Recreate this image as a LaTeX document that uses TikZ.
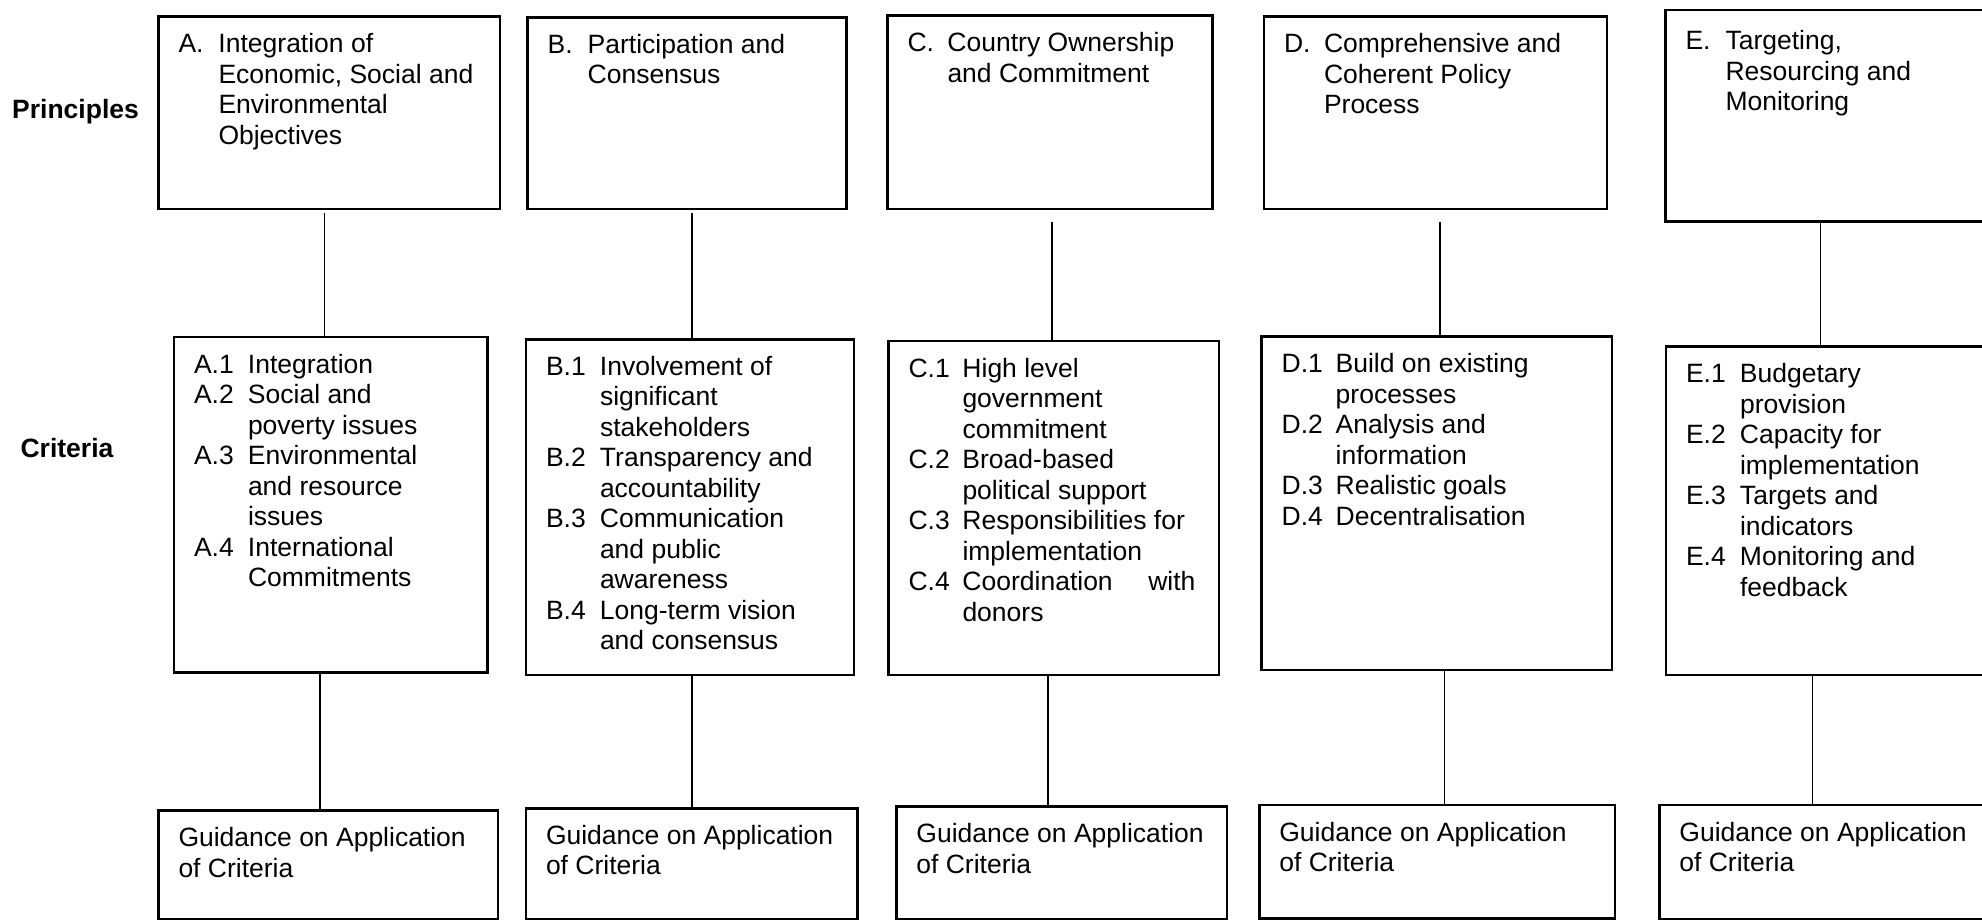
\documentclass[tikz,border=0pt]{standalone}
\usepackage{fontspec}
\setmainfont{Liberation Sans}
% hanging items: label column, then text
\newcommand{\itm}[2]{\hangindent=27pt\hangafter=1\noindent\makebox[27pt][l]{#1}#2\par}
\newcommand{\pitm}[2]{\hangindent=20pt\hangafter=1\noindent\makebox[20pt][l]{#1}#2\par}

\begin{document}
\begin{tikzpicture}[x=0.5pt, y=-0.5pt,
    every node/.style={font=\fontsize{13.25}{15.25}\selectfont},
    box/.style={draw, line width=1.3pt, anchor=north west, align=flush left,
      inner xsep=10pt, inner ysep=0pt, outer sep=0pt, text height=18pt},
    link/.style={line width=0.7pt},
    lbl/.style={font=\fontsize{13.25}{15.25}\selectfont\bfseries}]
  \useasboundingbox (0,0) rectangle (1982,920);

  % Row labels
  \node[lbl] (principles) at (75.5,112) {Principles};
  \node[lbl] (criteria) at (67,448) {Criteria};

  % Principles
  \node[box, text width=150.75pt, text depth=78.15pt] (pA) at (158.5,16.7)
    {\pitm{A.}{Integration of\newline Economic, Social and\newline Environmental\newline Objectives}};
  \node[box, text width=139.35pt, text depth=77.85pt] (pB) at (527.7,17.3)
    {\pitm{B.}{Participation and\newline Consensus}};
  \node[box, text width=142.5pt, text depth=78.65pt] (pC) at (887.5,15.7)
    {\pitm{C.}{Country Ownership\newline and Commitment}};
  \node[box, text width=151.5pt, text depth=78.15pt] (pD) at (1264,16.7)
    {\pitm{D.}{Comprehensive and\newline Coherent Policy\newline Process}};
  \node[box, text width=152.25pt, text height=20pt, text depth=85.85pt] (pE) at (1665.5,10)
    {\pitm{E.}{Targeting,\newline Resourcing and\newline Monitoring}};

  % Criteria
  \node[box, text width=136.75pt, text depth=149.85pt] (cA) at (174,337)
    {\itm{A.1}{Integration}
     \itm{A.2}{Social and\newline poverty issues}
     \itm{A.3}{Environmental\newline and resource\newline issues}
     \itm{A.4}{International\newline Commitments}};
  \node[box, text width=144pt, text depth=149.85pt] (cB) at (526,339.3)
    {\itm{B.1}{Involvement of\newline significant\newline stakeholders}
     \itm{B.2}{Transparency and\newline accountability}
     \itm{B.3}{Communication\newline and public\newline awareness}
     \itm{B.4}{Long-term vision\newline and consensus}};
  \node[box, text width=145.25pt, text depth=149pt] (cC) at (888.5,341)
    {\itm{C.1}{High level\newline government\newline commitment}
     \itm{C.2}{Broad-based\newline political support}
     \itm{C.3}{Responsibilities for\newline implementation}
     \itm{C.4}{\makebox[116.5pt][l]{Coordination\hfill with}\newline donors}};
  \node[box, text width=155.05pt, text depth=148.65pt] (cD) at (1261.7,336.7)
    {\itm{D.1}{Build on existing\newline processes}
     \itm{D.2}{Analysis and\newline information}
     \itm{D.3}{Realistic goals}
     \itm{D.4}{Decentralisation}};
  \node[box, text width=152pt, text depth=146.15pt] (cE) at (1666,346.7)
    {\itm{E.1}{Budgetary\newline provision}
     \itm{E.2}{Capacity for\newline implementation}
     \itm{E.3}{Targets and\newline indicators}
     \itm{E.4}{Monitoring and\newline feedback}};

  % Guidance
  \node[box, text width=149.65pt, text depth=36.15pt] (gA) at (158.5,810.7)
    {\mbox{Guidance on Application}\newline of Criteria};
  \node[box, text width=145.8pt, text depth=37.35pt] (gB) at (526,808.3)
    {\mbox{Guidance on Application}\newline of Criteria};
  \node[box, text width=145.3pt, text depth=38.15pt] (gC) at (896.4,806.7)
    {\mbox{Guidance on Application}\newline of Criteria};
  \node[box, text width=157.85pt, text depth=38.75pt] (gD) at (1259.3,805)
    {\mbox{Guidance on Application}\newline of Criteria};
  \node[box, text width=155.3pt, text depth=39pt] (gE) at (1659.4,805)
    {\mbox{Guidance on Application}\newline of Criteria};

  % Connectors
  \foreach \c/\xa/\xb/\gap in {A/324.6/320/2pt, B/692/692/2pt, C/1051.8/1048/6.35pt,
      D/1440/1444.7/6.35pt, E/1820.5/1812.5/0pt} {
    \draw[link, shorten <=\gap] (p\c.south -| \xa,0) -- (c\c.north -| \xa,0);
    \draw[link] (c\c.south -| \xb,0) -- (g\c.north -| \xb,0);
  }
\end{tikzpicture}
\end{document}
